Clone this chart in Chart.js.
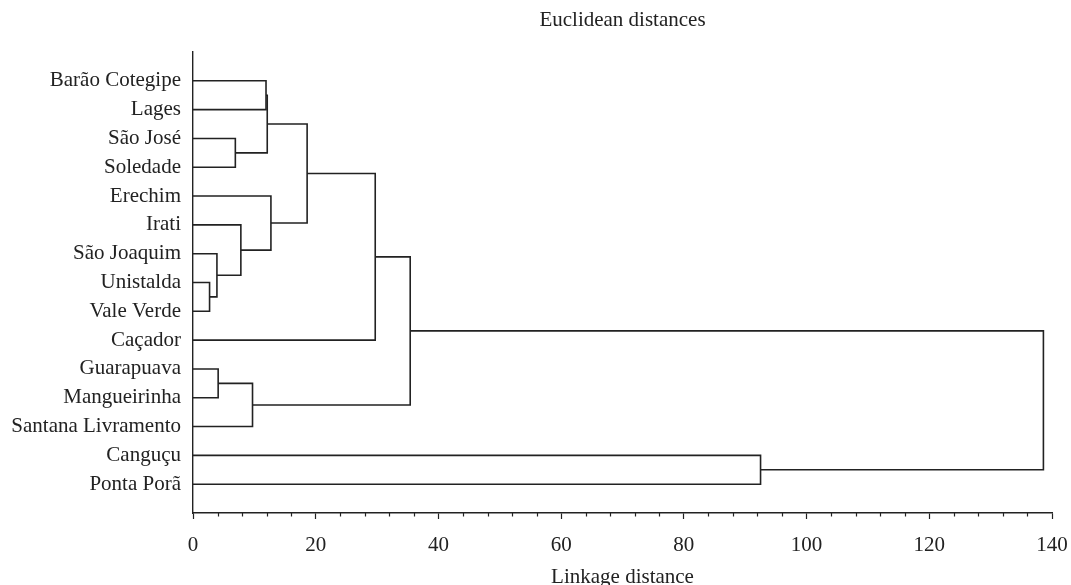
<!DOCTYPE html>
<html>
<head>
<meta charset="utf-8">
<title>Euclidean distances</title>
<script src="https://cdn.jsdelivr.net/npm/chart.js"></script>
<style>
  html, body { margin:0; padding:0; background:#fff; }
  #wrap { width:1071px; height:585px; }
</style>
</head>
<body>
<div id="wrap"><canvas id="dendro" width="1071" height="585"></canvas></div>
<script>
// leaves, top to bottom
const leaves = [
  "Barão Cotegipe", "Lages", "São José", "Soledade", "Erechim", "Irati",
  "São Joaquim", "Unistalda", "Vale Verde", "Caçador", "Guarapuava",
  "Mangueirinha", "Santana Livramento", "Canguçu", "Ponta Porã"
];

// merges: node ids 0..14 are leaves, each merge makes node 15, 16, ...
const mergeLeft   = [8, 6, 10, 2, 5, 12, 0, 21, 4, 22, 24, 25, 13, 26];
const mergeRight  = [7, 15, 11, 3, 16, 17, 1, 18, 19, 23, 9, 20, 14, 27];
const mergeHeight = [2.7, 3.9, 4.1, 6.9, 7.8, 9.7, 11.9, 12.1, 12.7, 18.6, 29.7, 35.4, 92.5, 138.6];

const xMajorTicks = [0, 20, 40, 60, 80, 100, 120, 140];
const xMinorStep = 4;

const FONT = "'Liberation Serif', 'Times New Roman', serif";
const INK = "#222";

// build the U-shaped links
const pos = leaves.map((_, i) => i);
const ht = leaves.map(() => 0);
const links = [];
mergeHeight.forEach((h, i) => {
  const a = mergeLeft[i], b = mergeRight[i];
  links.push([
    { x: ht[a], y: pos[a] },
    { x: h, y: pos[a] },
    { x: h, y: pos[b] },
    { x: ht[b], y: pos[b] }
  ]);
  pos.push((pos[a] + pos[b]) / 2);
  ht.push(h);
});

const datasets = links.map(pts => ({
  data: pts,
  showLine: true,
  borderColor: INK,
  borderWidth: 1.6,
  pointRadius: 0,
  fill: false,
  tension: 0
}));

// minor ticks on the x axis
const minorTicks = {
  id: "minorTicks",
  afterDraw(chart) {
    const s = chart.scales.x;
    const ctx = chart.ctx;
    ctx.save();
    ctx.strokeStyle = INK;
    ctx.lineWidth = 1.2;
    for (let v = s.min; v <= s.max; v += xMinorStep) {
      if (xMajorTicks.includes(v)) continue;
      const px = Math.round(s.getPixelForValue(v)) + 0.5;
      ctx.beginPath();
      ctx.moveTo(px, s.top);
      ctx.lineTo(px, s.top + 3.5);
      ctx.stroke();
    }
    ctx.restore();
  }
};

new Chart(document.getElementById("dendro"), {
  type: "scatter",
  data: { datasets },
  options: {
    responsive: false,
    animation: false,
    layout: { padding: { left: 0, right: 19, top: 0, bottom: 0 } },
    plugins: {
      legend: { display: false },
      tooltip: { enabled: false },
      title: { display: false }
    },
    scales: {
      // top axis only carries the title so it centres over the plot area
      top: {
        type: "linear",
        position: "top",
        min: 0,
        max: 140,
        afterFit: s => { s.height = 52; s.paddingLeft = 0; s.paddingRight = 0; },
        ticks: { display: false },
        grid: { display: false, drawTicks: false },
        border: { display: false },
        title: {
          display: true,
          text: "Euclidean distances",
          color: INK,
          font: { family: FONT, size: 21 },
          padding: { top: 8, bottom: 0 }
        }
      },
      x: {
        type: "linear",
        position: "bottom",
        min: 0,
        max: 140,
        afterBuildTicks: s => { s.ticks = xMajorTicks.map(v => ({ value: v })); },
        afterFit: s => { s.height = 72; s.paddingLeft = 0; s.paddingRight = 0; },
        ticks: { color: INK, padding: 14, font: { family: FONT, size: 21 } },
        grid: { drawOnChartArea: false, tickLength: 6, tickColor: INK, tickWidth: 1.2 },
        border: { display: true, color: INK, width: 1.4 },
        title: {
          display: true,
          text: "Linkage distance",
          color: INK,
          font: { family: FONT, size: 21 },
          padding: { top: 9, bottom: -5 }
        }
      },
      y: {
        type: "linear",
        reverse: true,
        min: -1,
        max: 15,
        afterBuildTicks: s => { s.ticks = leaves.map((_, i) => ({ value: i })); },
        afterFit: s => { s.width = 193; },
        ticks: {
          color: INK,
          padding: 12,
          autoSkip: false,
          font: { family: FONT, size: 21 },
          callback: v => leaves[v]
        },
        grid: { display: false, drawTicks: false },
        border: { display: true, color: INK, width: 1.4 }
      }
    }
  },
  plugins: [minorTicks]
});
</script>
</body>
</html>
